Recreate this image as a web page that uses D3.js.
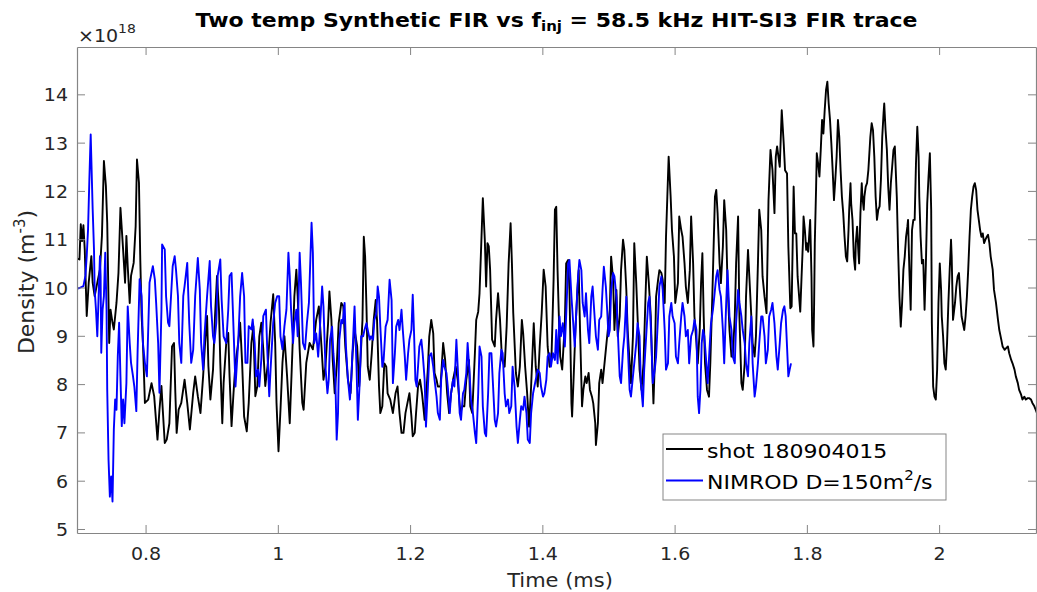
<!DOCTYPE html>
<html>
<head>
<meta charset="utf-8">
<script src="https://cdn.jsdelivr.net/npm/d3@7"></script>
<style>
  body { margin: 0; background: #fff; }
  svg { display: block; }
  text { font-family: "DejaVu Sans", sans-serif; fill: #262626; }
</style>
</head>
<body>
<svg id="chart" width="1037" height="592"></svg>
<script>
// Time axis ticks (ms) and density ticks (x 10^18 m^-3)
const xTicks = [0.8, 1, 1.2, 1.4, 1.6, 1.8, 2];
const yTicks = [5, 6, 7, 8, 9, 10, 11, 12, 13, 14];

// Measured FIR trace, shot 180904015: [time (ms), density (1e18 m^-3)]
const shotTrace = [
  [0.697,10.60],[0.700,10.58],[0.702,11.31],[0.704,10.96],[0.706,11.29],[0.708,10.79],[0.711,9.41],[0.714,10.10],
  [0.718,10.65],[0.720,10.10],[0.723,9.82],[0.727,10.10],[0.731,10.37],[0.734,11.07],[0.737,12.62],[0.740,12.10],
  [0.742,11.34],[0.745,8.85],[0.747,9.54],[0.750,9.27],[0.752,9.13],[0.756,9.68],[0.759,10.30],[0.762,11.65],
  [0.766,10.79],[0.769,10.10],[0.771,11.07],[0.773,10.44],[0.776,9.68],[0.778,10.24],[0.782,10.51],[0.785,11.27],
  [0.787,12.65],[0.790,12.17],[0.792,10.58],[0.794,9.41],[0.796,8.85],[0.799,7.61],[0.804,7.68],[0.809,8.02],
  [0.813,7.75],[0.818,6.85],[0.821,7.47],[0.824,7.96],[0.826,7.47],[0.829,6.78],[0.832,6.85],[0.836,7.19],
  [0.840,8.78],[0.843,8.85],[0.845,7.82],[0.847,6.99],[0.850,7.47],[0.854,7.61],[0.859,8.09],[0.863,7.61],
  [0.867,7.06],[0.872,7.82],[0.875,8.16],[0.879,7.75],[0.883,7.40],[0.887,8.16],[0.890,8.85],[0.893,9.41],
  [0.895,8.37],[0.898,7.68],[0.902,8.30],[0.905,9.41],[0.908,10.24],[0.911,9.54],[0.913,8.44],[0.916,7.19],
  [0.918,8.02],[0.922,8.85],[0.925,9.06],[0.927,8.16],[0.930,7.13],[0.933,7.82],[0.936,8.44],[0.940,8.85],
  [0.943,9.27],[0.946,8.44],[0.949,7.33],[0.953,7.02],[0.956,7.61],[0.960,8.85],[0.963,9.20],[0.966,7.75],
  [0.969,7.96],[0.972,8.99],[0.975,9.27],[0.978,8.72],[0.981,7.96],[0.985,8.44],[0.989,9.27],[0.993,9.86],
  [0.996,8.85],[0.998,7.61],[1.001,6.61],[1.004,7.47],[1.007,8.44],[1.010,8.99],[1.014,8.16],[1.018,7.19],
  [1.021,8.30],[1.025,9.82],[1.028,10.37],[1.030,9.82],[1.033,8.72],[1.037,7.61],[1.039,7.47],[1.043,8.44],
  [1.048,8.85],[1.053,8.72],
  [1.058,9.33],[1.062,9.61],[1.066,8.78],[1.069,8.09],[1.072,8.36],[1.076,9.26],[1.078,9.92],[1.081,9.33],
  [1.083,8.50],[1.086,7.81],[1.089,8.36],[1.092,9.26],[1.096,9.68],[1.099,9.61],[1.102,8.78],[1.106,8.09],
  [1.110,7.81],[1.113,8.64],[1.116,9.12],[1.120,8.78],[1.123,7.95],[1.125,8.50],[1.128,9.33],[1.130,11.05],
  [1.132,10.64],[1.134,9.61],[1.136,8.36],[1.139,8.09],[1.142,8.64],[1.145,9.33],[1.148,9.74],[1.150,9.33],
  [1.153,7.95],[1.155,7.40],[1.158,7.54],[1.161,8.43],[1.164,8.36],[1.166,7.81],[1.170,7.68],[1.174,7.40],
  [1.178,7.81],[1.181,7.95],[1.184,7.40],[1.187,6.99],[1.190,6.99],[1.193,7.40],[1.197,7.68],[1.199,7.81],
  [1.202,7.33],[1.204,6.92],[1.207,6.99],[1.209,7.40],[1.212,7.95],[1.215,8.09],[1.218,7.81],[1.222,7.26],
  [1.227,8.36],[1.229,8.99],[1.232,9.33],[1.235,9.05],[1.237,8.23],[1.240,8.09],[1.242,7.95],[1.246,7.95],
  [1.250,8.85],[1.253,8.50],[1.256,7.81],[1.259,7.40],[1.262,7.81],[1.265,8.09],[1.269,8.36],[1.272,8.09],
  [1.276,7.40],[1.279,7.54],[1.282,7.54],[1.285,8.09],[1.289,8.50],[1.291,7.54],[1.294,7.40],[1.298,8.64],
  [1.300,9.33],[1.303,9.50],[1.305,9.88],[1.308,11.05],[1.310,11.85],[1.313,10.99],[1.315,10.02],[1.317,10.92],
  [1.319,10.85],[1.321,10.37],[1.324,8.92],[1.328,8.78],[1.330,9.33],[1.333,9.88],[1.336,9.33],[1.339,8.50],
  [1.343,8.36],[1.346,9.19],[1.349,10.50],[1.352,11.33],[1.354,10.50],[1.356,9.47],[1.360,8.23],[1.363,7.95],
  [1.366,8.36],[1.369,9.33],[1.371,9.05],[1.374,8.36],[1.377,7.81],[1.380,7.12],[1.383,7.95],[1.387,9.26],
  [1.390,8.36],[1.393,7.95],[1.396,8.78],[1.399,9.47],[1.402,10.37],[1.405,10.02],[1.408,8.78],[1.411,8.36],
  [1.414,8.64],[1.417,10.16],[1.419,11.61],
  [1.421,11.67],[1.423,10.36],[1.425,9.40],[1.427,8.57],[1.430,8.30],[1.434,9.26],[1.436,10.50],[1.439,10.57],
  [1.441,9.95],[1.444,7.60],[1.445,7.33],[1.447,8.02],[1.450,9.12],[1.453,9.95],[1.455,10.36],[1.457,9.12],
  [1.460,7.54],[1.462,7.88],[1.465,8.16],[1.467,8.02],[1.470,8.23],[1.472,7.88],[1.475,7.74],[1.477,7.60],
  [1.480,7.19],[1.481,6.74],[1.484,7.19],[1.486,8.02],[1.489,8.30],[1.491,8.02],[1.494,8.43],[1.497,8.85],
  [1.499,9.12],[1.502,9.54],[1.504,10.64],[1.507,10.16],[1.509,9.12],[1.512,9.95],[1.514,8.99],[1.517,9.40],
  [1.519,10.36],[1.522,10.99],[1.524,10.78],[1.527,9.95],[1.529,9.12],[1.532,8.43],[1.534,8.02],[1.537,8.99],
  [1.539,10.92],[1.542,10.09],[1.544,9.40],[1.547,8.30],[1.550,7.88],[1.553,8.43],[1.556,9.81],[1.558,10.64],
  [1.561,10.09],[1.564,9.40],[1.566,8.43],[1.568,7.60],[1.570,8.43],[1.572,9.81],[1.575,10.16],[1.577,10.36],
  [1.580,10.30],[1.582,10.16],[1.585,9.68],[1.587,11.05],[1.589,11.88],[1.591,12.71],[1.594,11.88],[1.596,11.19],
  [1.599,10.64],[1.601,9.68],[1.605,10.09],[1.607,11.47],[1.610,11.19],[1.612,11.05],[1.615,10.50],[1.617,10.02],
  [1.620,9.68],[1.623,10.36],[1.625,11.47],[1.628,10.50],[1.630,9.40],[1.633,8.85],[1.635,8.43],[1.638,9.12],
  [1.640,10.09],[1.642,10.71],[1.644,9.40],[1.646,8.43],[1.649,7.88],[1.652,7.74],[1.654,8.43],[1.657,9.81],
  [1.659,10.85],[1.661,11.88],[1.663,12.02],[1.665,11.54],[1.668,10.50],[1.670,10.09],[1.673,10.85],[1.675,11.81],
  [1.678,11.19],[1.680,10.09],[1.683,9.12],[1.686,8.57],[1.688,8.57],[1.691,9.40],[1.693,10.50],[1.696,11.47],
  [1.698,9.40],[1.701,8.02],[1.703,7.88],[1.706,8.43],[1.708,9.81],[1.711,10.78],[1.713,10.23],[1.716,9.40],
  [1.718,8.85],[1.721,8.57],[1.723,8.99],[1.726,10.50],[1.728,11.61],[1.731,11.19],[1.733,10.23],[1.736,9.81],
  [1.739,9.47],[1.742,11.81],[1.745,12.85],[1.748,12.43],[1.751,11.54],[1.753,12.71],[1.755,12.92],[1.759,12.50],
  [1.762,13.67],[1.765,12.98],[1.767,12.43],[1.770,12.36],[1.772,10.85],[1.775,9.57],[1.777,9.61],[1.780,12.09],
  [1.782,11.12],
  [1.784,11.12],[1.786,10.23],[1.789,9.68],[1.790,9.50],[1.792,10.23],[1.794,10.92],[1.795,11.47],[1.797,11.19],
  [1.799,10.78],[1.800,10.92],[1.802,10.74],[1.804,11.19],[1.805,11.40],[1.807,10.23],[1.808,9.12],[1.810,8.78],
  [1.811,9.68],[1.812,10.92],[1.814,12.09],[1.815,12.78],[1.817,12.57],[1.819,12.30],[1.821,12.85],[1.823,13.47],
  [1.825,13.19],[1.827,13.68],[1.829,14.09],[1.831,14.26],[1.833,13.81],[1.835,13.47],[1.837,12.99],[1.839,12.43],
  [1.841,11.81],[1.843,12.23],[1.845,12.71],[1.847,13.47],[1.849,13.12],[1.851,12.43],[1.853,11.88],[1.855,11.54],
  [1.857,11.05],[1.859,10.64],[1.861,10.54],[1.863,11.19],[1.864,11.61],[1.866,12.16],[1.867,11.74],[1.869,11.40],
  [1.871,10.64],[1.873,10.37],[1.874,10.92],[1.876,11.26],[1.878,10.71],[1.879,10.50],[1.881,11.54],[1.883,12.16],
  [1.884,11.88],[1.886,11.61],[1.887,11.88],[1.889,12.09],[1.891,12.16],[1.893,12.43],[1.896,13.12],[1.898,13.40],
  [1.900,13.26],[1.902,12.71],[1.904,11.88],[1.906,11.40],[1.908,11.61],[1.910,11.68],[1.912,12.23],[1.914,13.12],
  [1.916,13.61],[1.917,13.81],[1.919,13.26],[1.921,12.85],[1.923,12.09],[1.925,11.61],[1.927,12.16],[1.929,12.50],
  [1.931,12.85],[1.933,12.92],[1.934,12.57],[1.936,11.88],[1.938,10.78],[1.940,9.81],[1.942,9.19],[1.944,9.68],
  [1.946,10.37],[1.948,10.64],[1.950,11.05],[1.952,11.26],[1.953,11.40],[1.955,10.37],[1.957,9.54],[1.959,11.19],
  [1.961,11.40],[1.963,11.40],[1.965,12.57],[1.967,13.33],[1.969,12.71],[1.970,11.88],[1.972,11.05],[1.974,10.50],
  [1.976,10.57],[1.978,9.54],[1.980,10.50],[1.982,11.74],[1.984,12.30],[1.986,12.78],[1.988,11.61],[1.989,9.26],
  [1.991,7.95],[1.993,7.74],[1.995,7.68],[1.997,8.30],[1.999,9.68],[2.001,10.50],[2.003,9.95],[2.004,9.40],
  [2.006,8.99],[2.008,8.43],[2.010,8.30],[2.012,8.85],[2.014,9.68],[2.016,10.37],[2.018,10.99],[2.019,10.64],
  [2.021,9.33],[2.024,9.68],[2.026,10.02],[2.028,10.23],[2.030,10.30],[2.032,9.81],[2.034,9.40],[2.036,9.26],
  [2.038,9.12],[2.040,9.40],[2.042,9.81],[2.044,10.37],[2.046,11.05],[2.048,11.61],[2.050,11.88],[2.052,12.09],
  [2.054,12.16],[2.056,12.02],[2.058,11.61],[2.060,11.40],[2.062,11.19],[2.064,11.05],[2.066,11.12],[2.068,10.92],
  [2.070,10.99],[2.072,11.05],[2.074,11.09],[2.076,10.92],[2.078,10.64],[2.081,10.37],[2.083,9.95],[2.086,9.68],
  [2.089,9.33],[2.091,9.12],[2.094,8.92],[2.096,8.78],[2.099,8.71],[2.101,8.74],[2.104,8.78],[2.106,8.64],
  [2.109,8.50],[2.111,8.43],[2.114,8.30],[2.116,8.16],[2.119,8.02],[2.121,7.88],[2.124,7.78],[2.126,7.68],
  [2.129,7.74],[2.131,7.68],[2.134,7.71],[2.136,7.71],[2.139,7.68],[2.141,7.61],[2.144,7.54],[2.146,7.47],
  [2.148,7.40]
];

// Synthetic FIR trace, NIMROD D = 150 m^2/s: [time (ms), density (1e18 m^-3)]
const nimrodTrace = [
  [0.697,9.98],[0.700,9.99],[0.706,10.03],[0.709,10.24],[0.711,10.65],[0.713,11.20],[0.715,12.24],[0.717,13.17],
  [0.718,12.65],[0.720,11.62],[0.722,10.79],[0.723,9.96],[0.725,9.54],[0.727,8.99],[0.729,9.82],[0.731,10.65],
  [0.732,10.24],[0.733,8.65],[0.735,9.54],[0.737,9.82],[0.739,10.72],[0.741,9.54],[0.742,7.89],[0.744,6.43],
  [0.746,5.67],[0.748,6.09],[0.750,5.57],[0.752,7.06],[0.754,7.68],[0.756,7.47],[0.758,8.58],[0.760,9.27],
  [0.762,8.16],[0.764,7.13],[0.766,7.68],[0.768,7.19],[0.771,8.02],[0.773,9.61],[0.776,8.85],[0.778,8.44],
  [0.781,8.16],[0.783,7.95],[0.786,7.44],[0.788,8.71],[0.791,10.17],[0.794,9.82],[0.796,8.85],[0.799,8.44],
  [0.802,8.16],[0.806,10.10],[0.811,10.44],[0.814,10.17],[0.816,9.68],[0.819,8.85],[0.821,7.82],[0.824,9.54],
  [0.825,10.89],[0.829,10.79],[0.831,9.82],[0.834,9.27],[0.836,9.20],[0.841,10.44],[0.844,10.65],[0.846,10.37],
  [0.849,9.82],[0.851,8.85],[0.854,8.44],[0.857,9.82],[0.859,10.03],[0.863,10.51],[0.866,9.27],[0.869,8.44],
  [0.872,8.71],[0.875,9.82],[0.879,10.61],[0.882,9.96],[0.884,8.85],[0.887,8.30],[0.889,8.99],[0.893,9.82],
  [0.897,10.55],[0.899,9.61],[0.902,8.99],[0.904,8.85],[0.907,9.27],[0.909,10.24],[0.913,10.58],[0.915,9.75],
  [0.918,8.99],[0.922,8.85],[0.925,9.54],[0.927,10.24],[0.930,10.30],[0.932,9.54],[0.936,7.95],[0.940,8.85],
  [0.943,9.82],[0.946,10.30],[0.949,9.82],[0.951,8.44],[0.954,8.44],[0.956,9.20],[0.960,9.13],[0.962,9.34],
  [0.965,8.85],[0.967,8.16],[0.970,8.30],[0.972,7.95],[0.975,8.51],[0.978,9.41],[0.982,9.54],[0.984,8.71],
  [0.987,7.75],[0.989,8.30],[0.993,9.27],[0.996,9.68],[0.999,9.82],[1.002,9.82],[1.004,8.99],[1.007,8.72],
  [1.010,9.20],[1.013,9.54],[1.016,10.72],[1.018,10.24],[1.020,9.54],[1.023,8.85],[1.025,9.27],[1.028,9.54],
  [1.030,8.99],[1.033,10.72],[1.035,10.10],[1.038,8.85],[1.041,8.72],[1.044,9.27],[1.047,9.68],[1.051,11.34],
  [1.053,10.72],[1.055,8.85],
  [1.058,9.05],[1.061,8.57],[1.063,8.99],[1.067,10.02],[1.069,9.61],[1.072,8.36],[1.075,7.81],[1.077,8.09],
  [1.079,8.92],[1.082,9.19],[1.084,8.64],[1.087,8.09],[1.089,6.85],[1.091,7.40],[1.093,8.92],[1.096,9.33],
  [1.098,9.26],[1.101,9.68],[1.103,8.78],[1.106,8.09],[1.109,7.68],[1.111,8.09],[1.114,8.99],[1.116,9.61],
  [1.119,8.36],[1.121,7.26],[1.124,8.09],[1.126,8.99],[1.129,8.99],[1.131,9.12],[1.134,9.26],[1.136,9.12],
  [1.139,8.92],[1.141,8.99],[1.144,8.92],[1.146,9.33],[1.149,9.47],[1.151,10.02],[1.153,9.81],[1.155,9.19],
  [1.158,8.36],[1.160,8.50],[1.163,9.19],[1.166,9.33],[1.169,10.16],[1.172,9.74],[1.174,8.02],[1.177,8.64],
  [1.179,9.19],[1.182,9.33],[1.184,9.12],[1.187,9.54],[1.189,9.12],[1.192,8.57],[1.194,8.09],[1.197,8.64],
  [1.199,8.92],[1.202,9.12],[1.204,9.85],[1.206,9.05],[1.208,8.09],[1.210,7.95],[1.212,8.36],[1.214,8.78],
  [1.217,8.92],[1.219,8.64],[1.222,8.09],[1.224,7.12],[1.227,7.95],[1.229,8.57],[1.232,8.64],[1.235,8.36],
  [1.237,8.09],[1.240,7.74],[1.242,7.40],[1.245,7.26],[1.247,8.09],[1.250,8.50],[1.252,8.36],[1.255,8.23],
  [1.257,7.95],[1.260,7.40],[1.262,7.81],[1.265,8.09],[1.267,7.95],[1.270,8.92],[1.272,8.36],[1.275,7.40],
  [1.277,7.26],[1.280,7.81],[1.282,7.88],[1.285,8.23],[1.287,8.85],[1.290,8.23],[1.292,7.68],[1.295,7.40],
  [1.298,6.99],[1.300,6.78],[1.303,7.81],[1.305,8.78],[1.308,8.57],[1.310,7.54],[1.313,6.99],[1.315,6.92],
  [1.318,7.81],[1.320,8.64],[1.323,8.64],[1.325,8.09],[1.328,7.26],[1.330,7.12],[1.333,7.40],[1.335,8.23],
  [1.338,8.71],[1.340,8.64],[1.343,7.81],[1.345,7.54],[1.348,7.68],[1.350,7.40],[1.353,7.54],[1.355,8.36],
  [1.358,7.95],[1.361,7.12],[1.363,6.78],[1.366,7.26],[1.368,7.54],[1.371,7.47],[1.373,7.74],[1.376,7.40],
  [1.378,6.85],[1.381,6.78],[1.383,7.40],[1.386,7.81],[1.388,7.95],[1.391,8.16],[1.393,8.30],[1.396,8.23],
  [1.398,7.95],[1.401,7.74],[1.403,7.81],[1.406,8.09],[1.408,8.57],[1.411,8.64],[1.413,8.36],[1.416,8.64],
  [1.419,8.50],
  [1.421,9.12],[1.423,8.43],[1.426,9.40],[1.428,8.99],[1.431,9.26],[1.434,8.78],[1.436,9.40],[1.439,10.50],
  [1.441,10.57],[1.444,9.81],[1.446,9.40],[1.449,8.78],[1.451,9.40],[1.454,10.23],[1.456,10.57],[1.459,10.36],
  [1.461,9.68],[1.464,9.40],[1.466,9.88],[1.469,9.12],[1.471,8.85],[1.474,9.81],[1.476,10.02],[1.479,9.40],
  [1.481,8.99],[1.484,8.71],[1.486,9.33],[1.489,9.40],[1.491,9.95],[1.493,10.43],[1.496,10.02],[1.498,9.54],
  [1.500,8.99],[1.502,9.12],[1.504,9.95],[1.507,10.30],[1.509,10.23],[1.512,9.81],[1.514,9.12],[1.517,8.16],
  [1.519,8.02],[1.522,8.71],[1.524,8.99],[1.527,9.81],[1.529,8.85],[1.532,7.88],[1.534,7.74],[1.537,8.16],
  [1.539,8.43],[1.542,8.85],[1.544,9.26],[1.547,8.99],[1.549,8.02],[1.552,7.54],[1.554,8.30],[1.557,8.99],
  [1.560,9.68],[1.562,9.81],[1.565,8.85],[1.567,8.02],[1.570,8.30],[1.572,8.57],[1.575,9.40],[1.577,10.02],
  [1.580,10.23],[1.582,9.95],[1.585,9.12],[1.587,8.30],[1.590,8.43],[1.592,9.40],[1.595,9.68],[1.597,9.40],
  [1.600,9.26],[1.602,8.57],[1.605,8.43],[1.607,8.85],[1.610,9.40],[1.612,9.68],[1.615,9.40],[1.617,8.99],
  [1.620,9.12],[1.622,8.43],[1.625,8.99],[1.628,9.12],[1.630,9.33],[1.633,9.12],[1.635,7.74],[1.637,7.40],
  [1.639,7.88],[1.641,8.85],[1.643,9.12],[1.645,8.99],[1.648,8.43],[1.650,8.02],[1.653,8.78],[1.655,9.26],
  [1.658,9.54],[1.660,9.81],[1.663,10.23],[1.665,10.36],[1.668,9.95],[1.670,9.81],[1.673,9.12],[1.675,8.43],
  [1.678,9.68],[1.680,10.36],[1.683,9.40],[1.686,9.12],[1.688,8.57],[1.691,8.43],[1.693,9.26],[1.696,9.95],
  [1.698,9.68],[1.701,9.40],[1.703,9.12],[1.706,8.85],[1.708,8.43],[1.711,8.16],[1.713,8.85],[1.716,9.40],
  [1.718,8.43],[1.721,7.74],[1.723,7.95],[1.726,8.43],[1.728,8.85],[1.731,9.40],[1.733,9.40],[1.736,8.99],
  [1.738,8.43],[1.741,8.71],[1.743,9.40],[1.746,9.54],[1.748,9.68],[1.751,9.26],[1.754,8.57],[1.756,8.30],
  [1.759,8.85],[1.761,9.26],[1.764,9.54],[1.766,9.61],[1.768,9.40],[1.770,8.78],[1.772,8.16],[1.774,8.30],
  [1.776,8.43]
];

const seriesLabels = ["shot 180904015", "NIMROD D=150m"];
const seriesColors = ["#000000", "#0000ff"];

const svg = d3.select("#chart");
const box = { left: 77, top: 47, right: 1036, bottom: 533 };
const squash = 0.89;           // horizontal text is drawn slightly compressed vertically
const axisGrey = "#858585";

const x = d3.scaleLinear().domain([0.6963, 2.1465]).range([box.left, box.right]);
const y = d3.scaleLinear().domain([4.917, 14.98]).range([box.bottom, box.top]);

svg.append("defs").append("clipPath").attr("id", "plotClip")
  .append("rect")
  .attr("x", box.left).attr("y", box.top)
  .attr("width", box.right - box.left).attr("height", box.bottom - box.top);

// traces
const line = d3.line().x(d => x(d[0])).y(d => y(d[1]));
const traces = svg.append("g").attr("clip-path", "url(#plotClip)");
[shotTrace, nimrodTrace].forEach((trace, i) => {
  traces.append("path")
    .datum(trace)
    .attr("fill", "none")
    .attr("stroke", seriesColors[i])
    .attr("stroke-width", 1.9)
    .attr("stroke-linejoin", "round")
    .attr("d", line);
});

// axes: ticks point into the plot box on all four sides
function styleAxis(g) {
  g.select(".domain").attr("stroke", axisGrey).attr("stroke-width", 1.2);
  g.selectAll(".tick line").attr("stroke", axisGrey).attr("stroke-width", 1);
}

const xBottom = svg.append("g")
  .attr("transform", `translate(0,${box.bottom})`)
  .call(d3.axisBottom(x).tickValues(xTicks).tickSizeInner(-8).tickSizeOuter(0)
        .tickFormat(d3.format("")));
styleAxis(xBottom);
xBottom.selectAll(".tick text")
  .attr("y", 0).attr("dy", null)
  .attr("transform", `translate(0,27) scale(1,${squash})`)
  .attr("font-size", 19).attr("fill", "#262626")
  .style("font-family", "'DejaVu Sans', sans-serif");

const xTop = svg.append("g")
  .attr("transform", `translate(0,${box.top})`)
  .call(d3.axisTop(x).tickValues(xTicks).tickSizeInner(-8).tickSizeOuter(0).tickFormat(""));
styleAxis(xTop);

const yLeft = svg.append("g")
  .attr("transform", `translate(${box.left},0)`)
  .call(d3.axisLeft(y).tickValues(yTicks).tickSizeInner(-8).tickSizeOuter(0));
styleAxis(yLeft);
yLeft.selectAll(".tick text")
  .attr("x", 0).attr("dy", null)
  .attr("transform", `translate(-9,6.5) scale(1,${squash})`)
  .attr("font-size", 19).attr("fill", "#262626")
  .style("font-family", "'DejaVu Sans', sans-serif");

const yRight = svg.append("g")
  .attr("transform", `translate(${box.right},0)`)
  .call(d3.axisRight(y).tickValues(yTicks).tickSizeInner(-8).tickSizeOuter(0).tickFormat(""));
styleAxis(yRight);

// exponent marker above the density axis
const expo = svg.append("text")
  .attr("transform", `translate(78,41.5) scale(1,${squash})`)
  .attr("font-size", 19);
expo.append("tspan").text("\u00d710");
expo.append("tspan").attr("font-size", 14).attr("dy", -10).text("18");

// title
const title = svg.append("text")
  .attr("transform", `translate(556.5,26.5) scale(1,${squash})`)
  .attr("text-anchor", "middle")
  .attr("font-weight", "bold")
  .attr("font-size", 22)
  .style("fill", "#000");
title.append("tspan").text("Two temp Synthetic FIR vs f");
title.append("tspan").attr("font-size", 15).attr("dy", 5).text("inj");
title.append("tspan").attr("dy", -5).text(" = 58.5 kHz HIT-SI3 FIR trace");

// axis labels
svg.append("text")
  .attr("transform", `translate(560,586.5) scale(1,${squash})`)
  .attr("text-anchor", "middle")
  .attr("font-size", 21)
  .text("Time (ms)");

const ylab = svg.append("text")
  .attr("transform", "translate(34,282) rotate(-90)")
  .attr("text-anchor", "middle")
  .attr("font-size", 22);
ylab.append("tspan").text("Density (m");
ylab.append("tspan").attr("font-size", 15).attr("dy", -9).text("-3");
ylab.append("tspan").attr("dy", 9).text(")");

// legend
const legend = svg.append("g");
legend.append("rect")
  .attr("x", 663).attr("y", 434).attr("width", 283).attr("height", 66)
  .attr("fill", "#fff").attr("stroke", axisGrey).attr("stroke-width", 1);
const rowY = [449, 480.5];
const rowBase = [458.3, 489.3];
seriesLabels.forEach((label, i) => {
  legend.append("line")
    .attr("x1", 666).attr("x2", 703).attr("y1", rowY[i]).attr("y2", rowY[i])
    .attr("stroke", seriesColors[i]).attr("stroke-width", 2);
  const t = legend.append("text")
    .attr("transform", `translate(707,${rowBase[i]}) scale(1,${squash})`)
    .attr("font-size", 22)
    .style("fill", "#000");
  t.append("tspan").text(label);
  if (i === 1) {
    t.append("tspan").attr("font-size", 15).attr("dy", -10).text("2");
    t.append("tspan").attr("dy", 10).text("/s");
  }
});
</script>
</body>
</html>
